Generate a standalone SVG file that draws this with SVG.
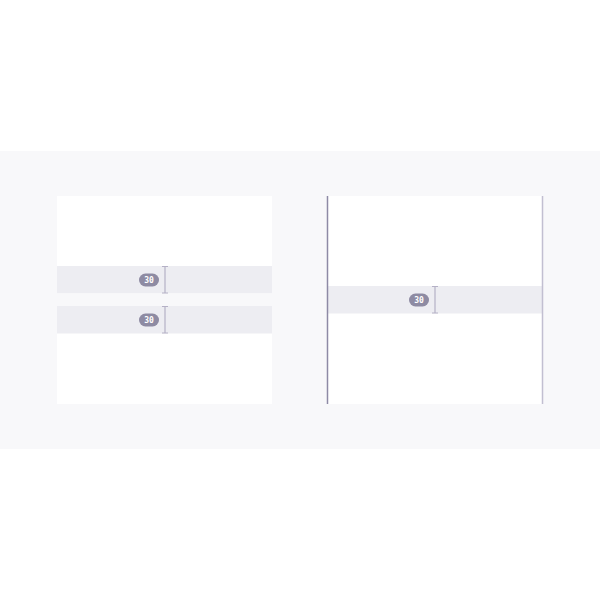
<svg xmlns="http://www.w3.org/2000/svg" width="600" height="600" viewBox="0 0 600 600">
<style>
.panel{fill:#ffffff}
.band{fill:#ededf2}
.pill{fill:#8e8ba3}
.lbl{fill:#ffffff;font-family:"DejaVu Sans Mono","Liberation Mono",monospace;font-size:8px;font-weight:bold;text-anchor:middle}
.beam{stroke:#b5b1c6;stroke-width:1.2;fill:none}
</style>
<rect x="0" y="151" width="600" height="298" fill="#f8f8fa"/>
<g id="left-panel">
<rect class="panel" x="57" y="196" width="215" height="208"/>
<rect class="band" x="57" y="266" width="215" height="27.5"/>
<rect fill="#f8f8fa" x="57" y="293.5" width="215" height="12.5"/>
<rect class="band" x="57" y="306" width="215" height="27.5"/>
</g>
<g id="left-measure-1">
<rect class="pill" x="139" y="273.5" width="20" height="13" rx="6.5"/>
<text class="lbl" x="149" y="283">30</text>
<path class="beam" d="M165 266.5V293M162 266.5H168M162 293H168"/>
</g>
<g id="left-measure-2">
<rect class="pill" x="139" y="313.5" width="20" height="13" rx="6.5"/>
<text class="lbl" x="149" y="323">30</text>
<path class="beam" d="M165 306.5V333M162 306.5H168M162 333H168"/>
</g>
<g id="right-panel">
<rect class="panel" x="327" y="196" width="216" height="208"/>
<rect class="band" x="328" y="286" width="214" height="27.5"/>
<line x1="327.5" y1="196" x2="327.5" y2="404" stroke="#8e8aa5" stroke-width="1.5"/>
<line x1="542.5" y1="196" x2="542.5" y2="404" stroke="#c2bfd1" stroke-width="1.5"/>
</g>
<g id="right-measure">
<rect class="pill" x="409" y="293.5" width="20" height="13" rx="6.5"/>
<text class="lbl" x="419" y="303">30</text>
<path class="beam" d="M435 286.5V313M432 286.5H438M432 313H438"/>
</g>
</svg>
